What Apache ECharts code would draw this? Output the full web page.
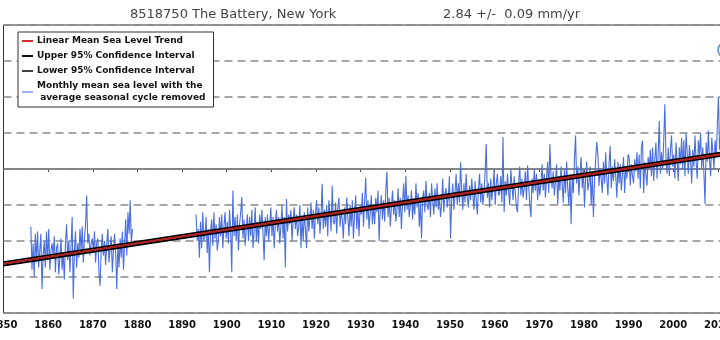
<!DOCTYPE html>
<html><head><meta charset="utf-8">
<script src="https://cdn.jsdelivr.net/npm/echarts@6/dist/echarts.min.js"></script>
<style>html,body{margin:0;padding:0;background:#fff}#c{width:720px;height:340px}</style>
</head><body><div id="c"></div>
<script>
// Quarterly estimates (mm) of monthly mean sea level with seasonal cycle removed
const seg1Start = 1856;
const seg1 = [
-240,-420,-310,-450, -270,-390,-260,-410, -340,-270,-500,-360, -300,-410,-260,-380,
-250,-420,-340,-310, -360,-280,-430,-330, -310,-440,-370,-290, -420,-350,-460,-310,
-230,-380,-300,-430, -320,-200,-540,-340, -260,-410,-310,-370, -250,-340,-240,-390,
-290,-230,-110,-310, -270,-360,-310,-290, -340,-260,-390,-310, -290,-430,-486,-340,
-270,-360,-300,-400, -310,-250,-390,-330, -280,-430,-340,-270, -350,-500,-310,-410,
-290,-370,-260,-420, -310,-210,-360,-180, -270,-130,-310,-250
];
const seg2Start = 1893;
const seg2 = [
-190,-300,-250,-370, -220,-330,-180,-300, -280,-200,-350,-250, -430,-260,-210,-320,
-180,-290,-230,-340, -300,-200,-280,-190, -330,-240,-180,-290, -220,-310,-170,-260,
-430,-90,-280,-200, -300,-190,-340,-230, -180,-117,-290,-210, -320,-250,-190,-300,
-200,-280,-170,-330, -260,-160,-300,-220, -310,-190,-250,-170, -270,-380,-200,-280,
-190,-300,-240,-160, -280,-200,-330,-230, -170,-260,-200,-310, -240,-150,-290,-200,
-410,-125,-260,-190, -230,-170,-300,-210, -160,-250,-190,-280, -240,-150,-330,-200,
-300,-180,-250,-330, -160,-260,-210,-140, -250,-170,-290,-190, -130,-230,-160,-270,
-200,-62,-250,-170, -240,-150,-280,-130, -180,-260,-70,-220, -230,-140,-270,-160,
-120,-240,-180,-210, -290,-160,-230,-120, -200,-280,-150,-240, -130,-290,-190,-110,
-250,-160,-280,-150, -190,-100,-240,-140, -35,-210,-130,-250, -180,-110,-230,-150,
-230,-120,-180,-90, -300,-170,-110,-210, -130,-220,-90,-11, -200,-120,-240,-160,
-90,-190,-130,-220, -170,-80,-200,-120, -250,-140,-60,-180, -28,-170,-110,-200,
-150,-90,-210,-130, -190,-60,-160,-100, -240,-140,-290,-120, -90,-180,-50,-150,
-170,-100,-200,-60, -130,-190,-80,-160, -60,-170,-110,-200, -150,-40,-180,-100,
-80,-160,-120,-30, -290,-130,-60,-170, -100,-20,-150,-60, -140,28,-90,-170,
-60,-140,-20,-120, -160,-70,-130,-40, -110,-170,-50,-130, -190,-80,-20,-140,
-60,-150,-100,-10, 104,-120,-60,-160, -40,-130,-80,0, -150,-60,-20,-110,
-100,-30,-140,133, -180,-50,-110,-20, -90,-150,0,-70, -130,-30,-100,-160,
-180,-60,10,-110, -40,-120,-80,-10, -130,15,-70,-150, -200,-40,-100,0,
-90,-20,-130,-50, -110,-60,20,-90, -20,-120,-40,30, -100,104,-30,-80,
-10,-110,-50,20, -150,-30,-90,10, -60,-140,0,-100, 30,-80,-150,-20,
-230,-40,-100,40, 140,-60,10,-110, -20,50,-80,0, -160,-40,30,-90,
-60,10,-150,-20, -200,-50,40,112, 60,-70,0,-40, -100,30,-60,70,
-40,-110,20,96, -80,10,-50,40, -30,-120,30,-60, 20,-90,-20,50,
-100,10,-40,60, 50,-70,20,-30, -60,40,-10,70, -40,60,-80,90,
118,-100,30,-20, -70,50,0,80, -30,90,-50,40, 110,-40,60,200,
-20,70,0,120, 270,40,-20,90, -30,80,140,10, 60,-40,110,30,
-50,90,20,130, 0,120,-30,150, 70,-20,100,40, -60,80,10,140,
30,-40,120,60, 150,0,90,-20, -146,110,30,160, 40,-30,130,70,
0,120,50,180, 300,80,140,40
];
// Trend and 95% confidence lines (mm) at the ends of the axis
const trendYears = [1850, 2010.5];
const trendMM = [-395, 61];
const upperMM = [-388, 68];
const lowerMM = [-402, 54];
const xTicks = [1850,1860,1870,1880,1890,1900,1910,1920,1930,1940,1950,1960,1970,1980,1990,2000,2010];

function build(start, vals){ return vals.map((v,i)=>[start + (i+0.5)/4, v/1000]); }
const monthly = build(seg1Start, seg1).concat([[1886, null]], build(seg2Start, seg2));
const line = arr => trendYears.map((y,i)=>[y, arr[i]/1000]);

const chart = echarts.init(document.getElementById('c'), null, {renderer:'canvas'});
const F = 'DejaVu Sans';
chart.setOption({
  animation:false,
  backgroundColor:'#fff',
  title:[
    {text:'8518750 The Battery, New York', left:125, top:3, textStyle:{fontFamily:F,fontSize:13,fontWeight:'normal',color:'#444'}},
    {text:'2.84 +/-  0.09 mm/yr', left:438, top:3, textStyle:{fontFamily:F,fontSize:13,fontWeight:'normal',color:'#444'}}
  ],
  grid:{left:3.5, right:-1, top:25, bottom:27, containLabel:false, outerBoundsMode:'none',
    show:true, borderColor:'#333', borderWidth:1, backgroundColor:'#fff'},
  legend:{
    left:18, top:32, orient:'vertical', backgroundColor:'#fff', borderColor:'#333', borderWidth:1,
    padding:[3,8,3,4], itemGap:3, itemWidth:11, itemHeight:2, icon:'rect',
    textStyle:{fontFamily:F, fontSize:9, fontWeight:'bold', color:'#111', lineHeight:12, padding:[0,0,0,-1]},
    data:[
      {name:'Linear Mean Sea Level Trend', itemStyle:{color:'#d03030'}},
      {name:'Upper 95% Confidence Interval', itemStyle:{color:'#111'}},
      {name:'Lower 95% Confidence Interval', itemStyle:{color:'#444'}},
      {name:'Monthly mean sea level with the\n average seasonal cycle removed', itemStyle:{color:'#9db4ef'}}
    ]
  },
  xAxis:{type:'value', min:1850, max:2010.7, interval:10,
    axisLine:{show:true, lineStyle:{color:'#222', width:1.5}},
    axisTick:{show:true, length:3, lineStyle:{color:'#444'}},
    axisLabel:{fontFamily:F, fontSize:10, fontWeight:'bold', color:'#111', margin:7, hideOverlap:false,
      showMinLabel:true, formatter:v => xTicks.indexOf(v) >= 0 ? String(v) : ''},
    splitLine:{show:false}},
  yAxis:{type:'value', min:-0.6, max:0.6, interval:0.15,
    axisLine:{show:false}, axisTick:{show:false}, axisLabel:{show:false},
    splitLine:{show:true, lineStyle:{color:'#8a8a8a', type:[8,5], width:1.5}}},
  series:[
    {name:'Monthly mean sea level with the\n average seasonal cycle removed', type:'line', data:monthly,
      showSymbol:false, connectNulls:false, lineStyle:{color:'#4a6fe0', width:1.1}, itemStyle:{color:'#9db4ef'}, z:2,
      markLine:{silent:true, symbol:'none', label:{show:false}, z:1,
        lineStyle:{color:'#9a9a9a', type:'solid', width:1.5}, data:[{yAxis:0}]}},
    {name:'Upper 95% Confidence Interval', type:'line', data:line(upperMM), showSymbol:false,
      lineStyle:{color:'#000', width:2}, itemStyle:{color:'#111'}, z:3},
    {name:'Lower 95% Confidence Interval', type:'line', data:line(lowerMM), showSymbol:false,
      lineStyle:{color:'#000', width:2}, itemStyle:{color:'#444'}, z:3},
    {name:'Linear Mean Sea Level Trend', type:'line', data:line(trendMM), showSymbol:false,
      lineStyle:{color:'#b02020', width:2}, itemStyle:{color:'#d03030'}, z:4}
  ],
  graphic:[
    {type:'circle', shape:{cx:726, cy:50, r:8}, style:{fill:'#e8f0fa', stroke:'#5b8fd0', lineWidth:1.5}}
  ]
});
</script></body></html>
